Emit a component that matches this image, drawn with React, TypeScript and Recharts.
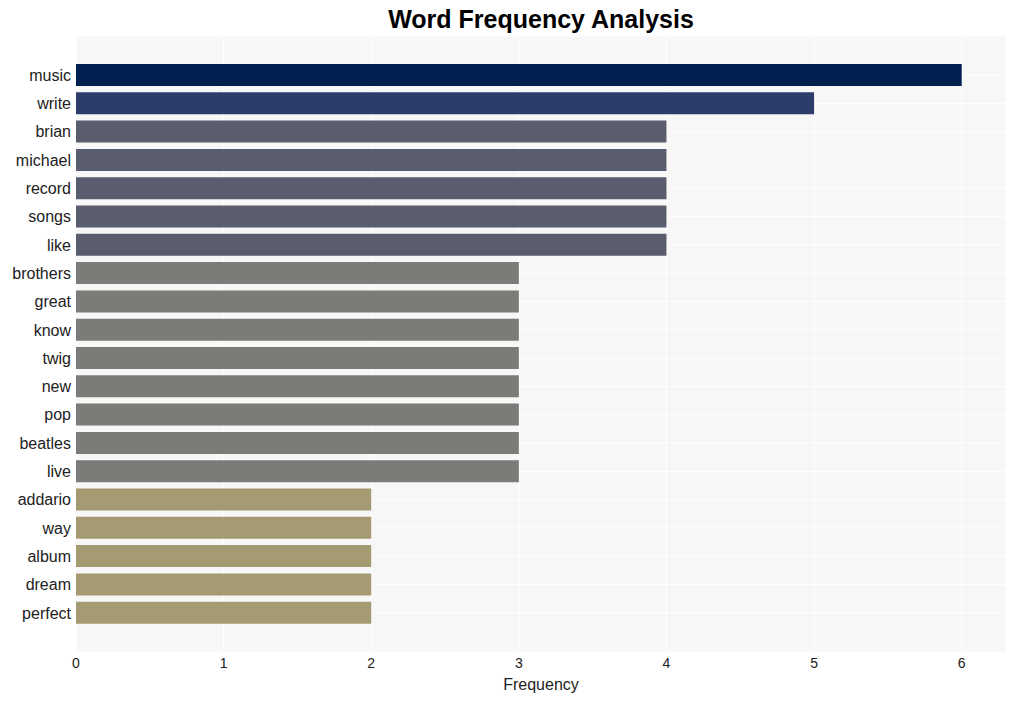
import { BarChart, Bar, XAxis, YAxis, CartesianGrid, Cell } from "recharts";

const words = [
  "music", "write", "brian", "michael", "record", "songs", "like",
  "brothers", "great", "know", "twig", "new", "pop", "beatles", "live",
  "addario", "way", "album", "dream", "perfect",
];
const counts = [6, 5, 4, 4, 4, 4, 4, 3, 3, 3, 3, 3, 3, 3, 3, 2, 2, 2, 2, 2];
const xTicks = [0, 1, 2, 3, 4, 5, 6];

const colorFor = (v: number) => {
  if (v >= 6) return "#00204f";
  if (v >= 5) return "#2c3d6b";
  if (v >= 4) return "#5a5d6d";
  if (v >= 3) return "#7c7b77";
  return "#a49b73";
};

const data = words.map((w, i) => ({ word: w, count: counts[i] }));

const FONT = '"Liberation Sans", Arial, sans-serif';

export default function App() {
  return (
    <div style={{ position: "absolute", left: 0, top: 0, width: 1015, height: 701, background: "#fff", fontFamily: FONT }}>
      <div
        style={{
          position: "absolute",
          top: 5,
          left: 76,
          width: 930,
          textAlign: "center",
          fontSize: 25,
          fontWeight: "bold",
          color: "#000",
        }}
      >
        Word Frequency Analysis
      </div>
      <BarChart
        width={1015}
        height={701}
        data={data}
        layout="vertical"
        margin={{ top: 36, right: 9, left: 0, bottom: 9 }}
        barSize={22}
      >
        <CartesianGrid fill="#f7f7f7" stroke="#ffffff" strokeWidth={1} />
        <XAxis
          type="number"
          domain={[0, 6.3]}
          ticks={xTicks}
          height={40}
          axisLine={false}
          tickLine={false}
          tickSize={0}
          tickMargin={6}
          tick={{ fill: "#222", fontSize: 14, fontFamily: FONT }}
          label={{ value: "Frequency", position: "insideBottom", offset: 2, fill: "#222", fontSize: 16, fontFamily: FONT }}
        />
        <YAxis
          type="category"
          dataKey="word"
          width={76}
          padding={{ top: 25, bottom: 25 }}
          axisLine={false}
          tickLine={false}
          tickSize={0}
          tickMargin={5}
          interval={0}
          tick={{ fill: "#222", fontSize: 16, fontFamily: FONT }}
        />
        <Bar dataKey="count" isAnimationActive={false}>
          {data.map((d, i) => (
            <Cell key={`cell-${i}`} fill={colorFor(d.count)} />
          ))}
        </Bar>
      </BarChart>
    </div>
  );
}
